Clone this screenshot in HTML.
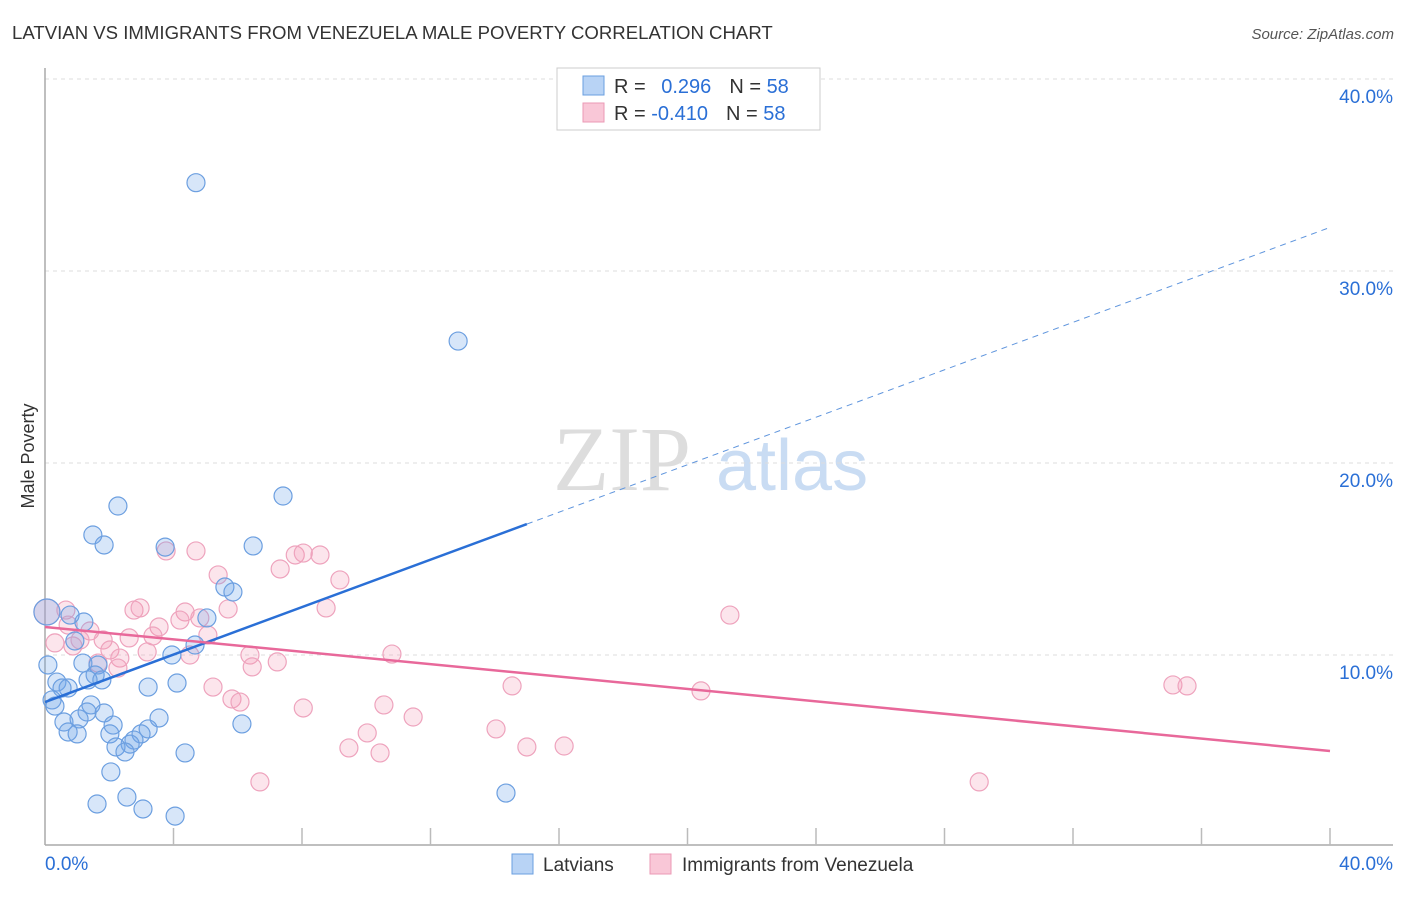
<!DOCTYPE html>
<html><head><meta charset="utf-8"><style>
body{margin:0;background:#fff;font-family:"Liberation Sans",sans-serif;}
svg text{font-family:"Liberation Sans",sans-serif;}
</style></head><body>
<svg id="c" width="1406" height="892">
<text x="12" y="39" font-size="18.6" fill="#333">LATVIAN VS IMMIGRANTS FROM VENEZUELA MALE POVERTY CORRELATION CHART</text>
<text x="1394" y="39" font-size="15" fill="#555" font-style="italic" text-anchor="end">Source: ZipAtlas.com</text>
<text transform="translate(34,456) rotate(-90)" font-size="18" fill="#333" text-anchor="middle">Male Poverty</text>
<g>
<text x="553" y="490" font-size="92" fill="#ddd" font-family="Liberation Serif" style="font-family:'Liberation Serif',serif">ZIP</text>
<text x="716" y="490" font-size="72" fill="#c9dcf3">atlas</text>
</g>
<g id="grid"></g>
<g id="axes"></g>
<g id="marks"></g>
<g>
<rect x="557" y="68" width="263" height="62" fill="#fff" stroke="#ccc"/>
<rect x="583" y="76" width="21" height="19" fill="#b8d3f5" stroke="#6a9fe0"/>
<rect x="583" y="103" width="21" height="19" fill="#f9c7d7" stroke="#eb9ab5"/>
<text x="614" y="93" font-size="20" fill="#333">R = <tspan fill="#2a6fd6" dx="10">0.296</tspan><tspan dx="18" fill="#333">N = </tspan><tspan fill="#2a6fd6">58</tspan></text>
<text x="614" y="120" font-size="20" fill="#333">R = <tspan fill="#2a6fd6">-0.410</tspan><tspan dx="18" fill="#333">N = </tspan><tspan fill="#2a6fd6">58</tspan></text>
</g>
<g>
<rect x="512" y="854" width="21" height="20" fill="#b8d3f5" stroke="#6a9fe0"/>
<text x="543" y="871" font-size="19" fill="#333">Latvians</text>
<rect x="650" y="854" width="21" height="20" fill="#f9c7d7" stroke="#eb9ab5"/>
<text x="682" y="871" font-size="19" fill="#333">Immigrants from Venezuela</text>
</g>
</svg>
<script>
const yTicks=[10,20,30,40];
const yTickLabels=["10.0%","20.0%","30.0%","40.0%"];
const blueX=[4.70,12.86,7.41,2.27,1.49,1.84,3.74,6.48,5.60,5.85,5.04,1.21,0.78,0.06,0.93,4.67,3.95,0.09,1.18,1.65,1.56,1.77,1.34,0.37,0.72,0.53,3.21,4.11,0.22,0.31,1.43,1.84,1.31,3.55,0.59,1.06,2.12,6.13,3.21,2.02,0.72,1.00,2.99,2.77,2.65,2.21,2.49,4.36,2.05,1.62,2.55,3.05,4.05,14.35];
const blueY=[34.6,26.35,18.28,17.76,16.25,15.73,15.62,15.68,13.54,13.28,11.93,11.72,12.08,12.24,10.73,10.52,10.0,9.48,9.58,9.48,8.96,8.70,8.70,8.59,8.28,8.28,8.33,8.54,7.66,7.34,7.40,6.98,7.03,6.72,6.51,6.67,6.35,6.41,6.15,5.89,5.99,5.89,5.89,5.57,5.36,5.21,4.95,4.90,3.91,2.24,2.60,1.98,1.61,2.81];
const pinkX=[0.06,0.65,0.72,0.31,0.87,1.40,1.09,1.81,2.02,2.33,1.65,2.27,2.77,2.96,2.62,3.55,3.36,3.18,3.77,4.70,5.39,5.70,4.36,4.20,4.82,5.07,4.51,6.38,6.45,7.23,5.23,5.82,6.07,6.69,7.32,7.79,8.04,8.56,9.18,8.75,8.04,9.46,10.03,10.55,10.80,10.43,11.46,14.04,14.54,15.0,16.16,20.42,21.32,29.08,35.11,35.55];
const pinkY=[12.24,12.34,11.56,10.63,10.47,11.25,10.78,10.78,10.26,9.84,9.58,9.32,12.34,12.45,10.89,11.46,10.99,10.16,15.42,15.42,14.17,12.40,12.24,11.82,11.93,11.04,10.0,10.0,9.38,9.64,8.33,7.71,7.55,3.39,14.48,15.21,15.31,15.21,13.91,12.45,7.24,5.16,5.94,7.40,10.05,4.90,6.77,6.15,8.39,5.21,5.26,8.13,12.08,3.39,8.44,8.39];
const blueFit=[7.55,0.618], pinkFit=[11.46,-0.1615];
const NS="http://www.w3.org/2000/svg";
const sx=v=>45+v/40*1285, sy=v=>847-v*19.2;
function mk(p,t,a){const e=document.createElementNS(NS,t);for(const k in a)e.setAttribute(k,a[k]);p.appendChild(e);return e;}
const grid=document.getElementById('grid'),axes=document.getElementById('axes'),marks=document.getElementById('marks');
yTicks.forEach((t,i)=>{
 const l=mk(grid,'line',{x1:45,x2:1393,y1:sy(t),y2:sy(t),stroke:'#ddd','stroke-dasharray':'4,4'});
 
 
 const tx=mk(grid,'text',{x:1393,y:sy(t)+24,'font-size':19,fill:'#2a6fd6','text-anchor':'end'});tx.textContent=yTickLabels[i];
 
 
});
mk(axes,'line',{x1:45,x2:45,y1:68,y2:845,stroke:'#aaa','stroke-width':1.5});
mk(axes,'line',{x1:45,x2:1393,y1:845,y2:845,stroke:'#aaa','stroke-width':1.5});
for(let i=1;i<=10;i++){mk(axes,'line',{x1:sx(i*4),x2:sx(i*4),y1:828,y2:845,stroke:'#bbb','stroke-width':1.5});}
const x0=mk(axes,'text',{x:45,y:870,'font-size':19,fill:'#2a6fd6'});x0.textContent='0.0%';


const x1=mk(axes,'text',{x:1393,y:870,'font-size':19,fill:'#2a6fd6','text-anchor':'end'});x1.textContent='40.0%';


function pts(X,Y,fill,stroke,name){X.forEach((x,i)=>{const r=(x<0.2&&Y[i]>12)?13:9;
 const c=mk(marks,'circle',{cx:sx(x),cy:sy(Y[i]),r:r,fill:fill,stroke:stroke,'stroke-width':1.2});
 
 });}
pts(pinkX,pinkY,'rgba(242,150,180,0.25)','#eea3bd','point-venezuela');
pts(blueX,blueY,'rgba(110,165,232,0.28)','#6c9fe0','point-latvians');
const bl=mk(marks,'line',{x1:sx(0),y1:sy(blueFit[0]),x2:sx(15),y2:sy(blueFit[0]+blueFit[1]*15),stroke:'#2a6fd6','stroke-width':2.5});


const bd=mk(marks,'line',{x1:sx(15),y1:sy(blueFit[0]+blueFit[1]*15),x2:sx(40),y2:sy(blueFit[0]+blueFit[1]*40),stroke:'#5f95dd','stroke-width':1,'stroke-dasharray':'6,5'});


const pl=mk(marks,'line',{x1:sx(0),y1:sy(pinkFit[0]),x2:sx(40),y2:sy(pinkFit[0]+pinkFit[1]*40),stroke:'#e8689a','stroke-width':2.5});


</script>
</body></html>
